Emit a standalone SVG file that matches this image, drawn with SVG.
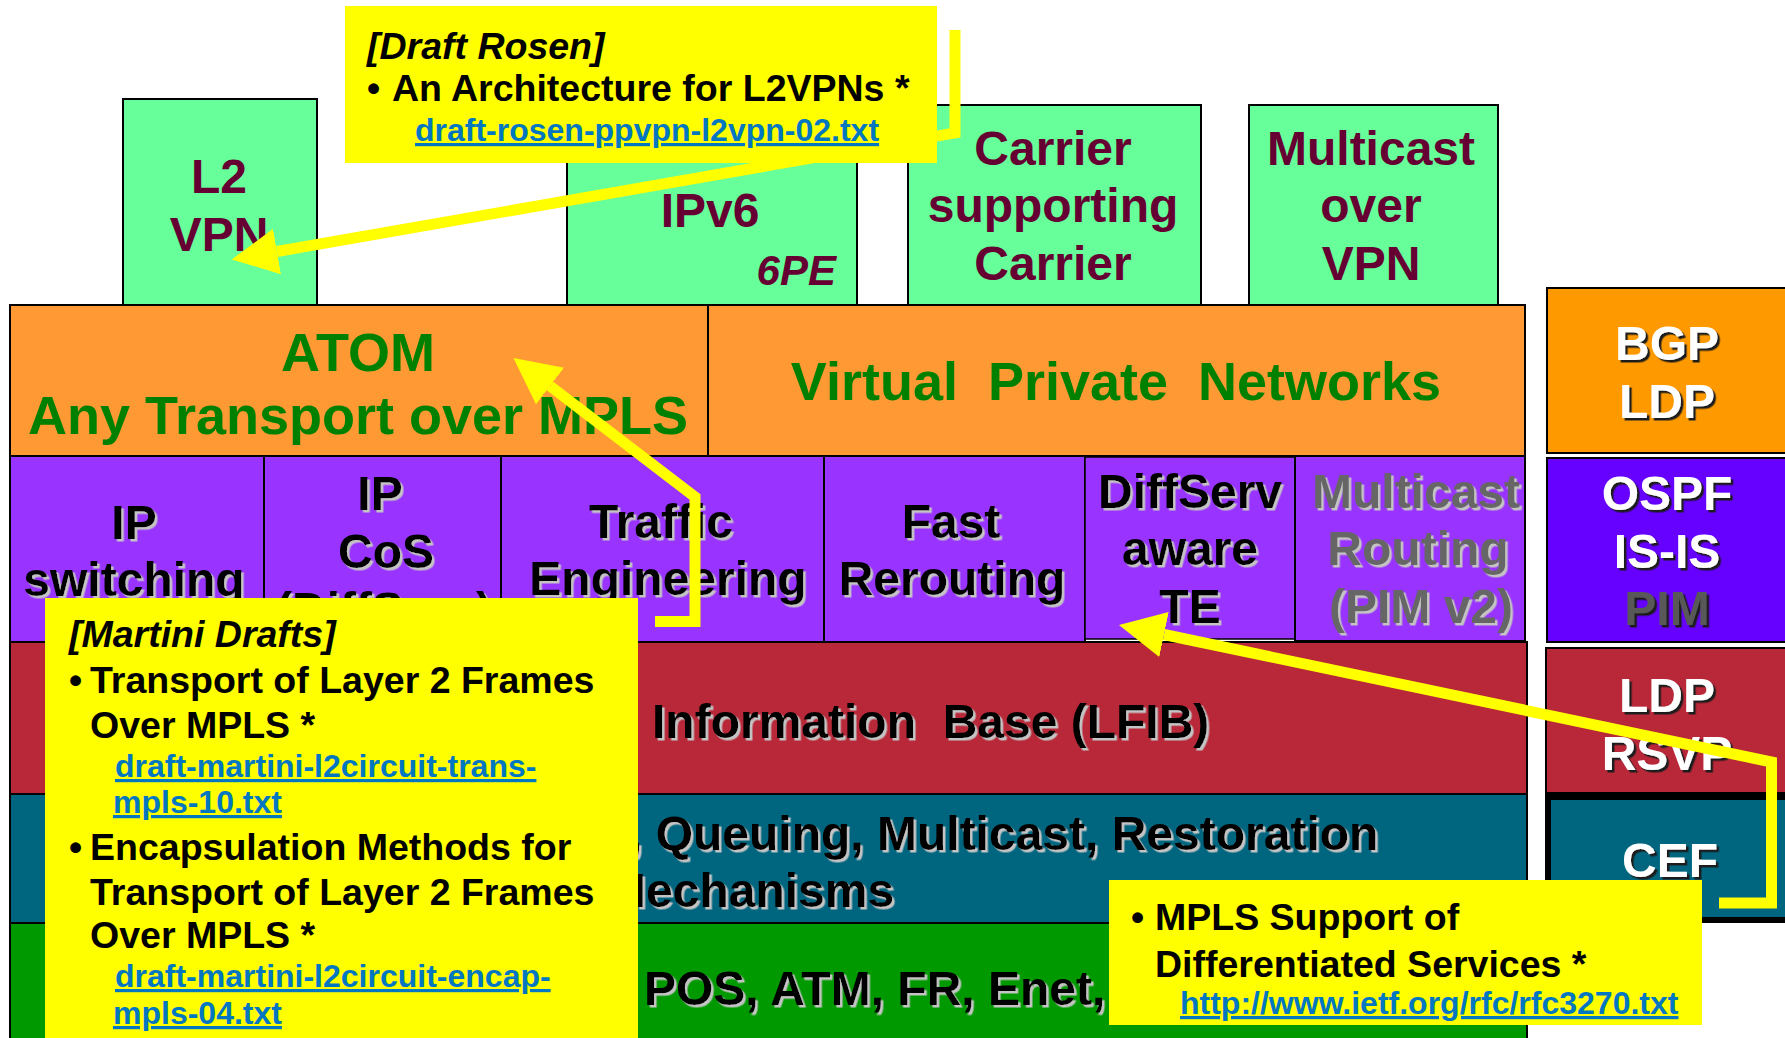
<svg xmlns="http://www.w3.org/2000/svg" width="1785" height="1038" viewBox="0 0 1785 1038">
<style>
text { font-family: "Liberation Sans", Arial, sans-serif; font-weight: bold; }
.ln { stroke: #000; stroke-width: 2; }
.gbox { fill: #66FF99; stroke: #000; stroke-width: 2; }
.mar { fill: #660033; font-size: 48px; text-anchor: middle; }
.grn { fill: #008000; font-size: 54px; text-anchor: middle; }
.blk { fill: #000; font-size: 48px; text-anchor: middle; filter: url(#shLight); }
.blkl { fill: #000; font-size: 48px; filter: url(#shLight); }
.gry { fill: #666666; font-size: 48px; text-anchor: middle; filter: url(#shLight); }
.wht { fill: #FFFFFF; font-size: 48px; text-anchor: middle; filter: url(#shDark); }
.dgry { fill: #595959; font-size: 48px; text-anchor: middle; filter: url(#shDark); }
.note { fill: #FFFF00; }
.nt { fill: #000; font-size: 37.5px; }
.lnk { fill: #0077C0; font-size: 32px; text-decoration: underline; }
</style>
<defs>
<filter id="shLight" x="-5%" y="-10%" width="110%" height="125%"><feDropShadow dx="2.5" dy="2.5" stdDeviation="0" flood-color="#C4C4C4" flood-opacity="1"/></filter>
<filter id="shDark" x="-5%" y="-10%" width="110%" height="125%"><feDropShadow dx="2.5" dy="2.5" stdDeviation="0" flood-color="#1A1A1A" flood-opacity="1"/></filter>
<marker id="arrow" viewBox="0 0 46 46" markerUnits="userSpaceOnUse" markerWidth="46" markerHeight="46" refX="0" refY="23" orient="auto"><path d="M0,0 L46,23 L0,46 Z" fill="#FFFF00"/></marker>
</defs>
<rect width="1785" height="1038" fill="#FFFFFF"/>

<!-- top green boxes -->
<g id="l2vpn"><rect class="gbox" x="123" y="99" width="194" height="208"/>
<text class="mar" x="219" y="193">L2</text><text class="mar" x="219" y="251">VPN</text></g>
<g id="ipv6"><rect class="gbox" x="567" y="105" width="290" height="200"/>
<text class="mar" x="710" y="227">IPv6</text>
<text x="836" y="285" fill="#660033" font-size="42" font-style="italic" text-anchor="end">6PE</text></g>
<g id="csc"><rect class="gbox" x="908" y="105" width="293" height="200"/>
<text class="mar" x="1053" y="165">Carrier</text><text class="mar" x="1053" y="222">supporting</text><text class="mar" x="1053" y="280">Carrier</text></g>
<g id="mvpn"><rect class="gbox" x="1249" y="105" width="249" height="200"/>
<text class="mar" x="1371" y="165">Multicast</text><text class="mar" x="1371" y="222">over</text><text class="mar" x="1371" y="280">VPN</text></g>

<!-- orange row -->
<g id="atom"><rect class="ln" x="10" y="305" width="698" height="151" fill="#FF9933"/>
<text class="grn" x="358" y="371">ATOM</text><text class="grn" x="358" y="434">Any Transport over MPLS</text></g>
<g id="vpns"><rect class="ln" x="708" y="305" width="817" height="151" fill="#FF9933"/>
<text class="grn" x="1116" y="400" xml:space="preserve">Virtual  Private  Networks</text></g>

<!-- purple row -->
<g id="ipsw"><rect class="ln" x="10" y="456" width="254" height="186" fill="#9933FF"/>
<text class="blk" x="134" y="539">IP</text><text class="blk" x="134" y="596">switching</text></g>
<g id="ipcos"><rect class="ln" x="264" y="456" width="237" height="186" fill="#9933FF"/>
<text class="blk" x="380" y="510">IP</text><text class="blk" x="386" y="568">CoS</text><text class="blk" x="384" y="626">(DiffServ)</text></g>
<g id="te"><rect class="ln" x="501" y="456" width="323" height="186" fill="#9933FF"/>
<text class="blk" x="661" y="538">Traffic</text><text class="blk" x="668" y="595">Engineering</text></g>
<g id="frr"><rect class="ln" x="824" y="456" width="261" height="186" fill="#9933FF"/>
<text class="blk" x="951" y="538">Fast</text><text class="blk" x="952" y="595">Rerouting</text></g>
<g id="dste"><rect x="1085" y="457" width="210" height="182" fill="#9933FF" stroke="#000" stroke-width="1.5"/>
<text class="blk" x="1190" y="508">DiffServ</text><text class="blk" x="1190" y="565">aware</text><text class="blk" x="1190" y="623">TE</text></g>
<g id="mcast"><rect class="ln" x="1295" y="456" width="230" height="185" fill="#9933FF"/>
<text class="gry" x="1416" y="508">Multicast</text><text class="gry" x="1418" y="565">Routing</text><text class="gry" x="1421" y="623">(PIM v2)</text></g>

<!-- lower rows -->
<g id="lfib"><rect class="ln" x="10" y="642" width="1517" height="152" fill="#B82838"/>
<text class="blkl" x="652" y="738" xml:space="preserve">Information  Base (LFIB)</text></g>
<g id="qos"><rect class="ln" x="10" y="794" width="1517" height="129" fill="#006680"/>
<text class="blkl" x="629" y="850">, Queuing, Multicast, Restoration</text>
<text class="blkl" x="606" y="907">Mechanisms</text></g>
<g id="l2"><rect class="ln" x="10" y="923" width="1517" height="125" fill="#009900"/>
<text class="blkl" x="644" y="1005">POS, ATM, FR, Enet,</text></g>

<!-- right column -->
<g id="bgp"><rect class="ln" x="1547" y="288" width="250" height="165" fill="#FF9900"/>
<text class="wht" x="1667" y="360">BGP</text><text class="wht" x="1667" y="418">LDP</text></g>
<g id="igp"><rect class="ln" x="1547" y="458" width="250" height="184" fill="#6600FF"/>
<text class="wht" x="1667" y="510">OSPF</text><text class="wht" x="1667" y="568">IS-IS</text><text class="dgry" x="1667" y="625">PIM</text></g>
<g id="ldp"><rect class="ln" x="1546" y="648" width="250" height="145" fill="#B82838"/>
<text class="wht" x="1667" y="712">LDP</text><text class="wht" x="1667" y="770">RSVP</text></g>
<g id="cef"><rect x="1548" y="797" width="250" height="123" fill="#006680" stroke="#000" stroke-width="6"/>
<text class="wht" x="1670" y="877">CEF</text></g>

<!-- connectors -->
<g id="connectors" fill="none" stroke="#FFFF00" stroke-width="11" stroke-linejoin="miter">
<polyline id="c-rosen" points="955,30 955,133 277,251.5" marker-end="url(#arrow)"/>
<polyline id="c-martini" points="655,621.5 695,621.5 695,497 550,386" marker-end="url(#arrow)"/>
<polyline id="c-rfc3270" points="1719,903 1771.5,903 1771.5,762 1164,634.5" marker-end="url(#arrow)"/>
</g>

<!-- callouts -->
<g id="note-rosen"><rect class="note" x="345" y="6" width="592" height="157"/>
<text class="nt" x="367" y="59" font-style="italic">[Draft Rosen]</text>
<text class="nt" y="101"><tspan x="367">•</tspan><tspan x="392">An Architecture for L2VPNs *</tspan></text>
<text class="lnk" x="415" y="141">draft-rosen-ppvpn-l2vpn-02.txt</text></g>

<g id="note-martini"><rect class="note" x="45" y="598" width="593" height="445"/>
<text class="nt" x="69" y="647" font-style="italic">[Martini Drafts]</text>
<text class="nt" y="693"><tspan x="69">•</tspan><tspan x="90">Transport of Layer 2 Frames</tspan></text>
<text class="nt" x="90" y="738">Over MPLS *</text>
<text class="lnk" x="115" y="777">draft-martini-l2circuit-trans-</text>
<text class="lnk" x="113" y="813">mpls-10.txt</text>
<text class="nt" y="860"><tspan x="69">•</tspan><tspan x="90">Encapsulation Methods for</tspan></text>
<text class="nt" x="90" y="905">Transport of Layer 2 Frames</text>
<text class="nt" x="90" y="948">Over MPLS *</text>
<text class="lnk" x="115" y="987">draft-martini-l2circuit-encap-</text>
<text class="lnk" x="113" y="1024">mpls-04.txt</text></g>

<g id="note-rfc3270"><rect class="note" x="1109" y="880" width="593" height="145"/>
<text class="nt" y="930"><tspan x="1131">•</tspan><tspan x="1155">MPLS Support of</tspan></text>
<text class="nt" x="1155" y="977">Differentiated Services *</text>
<text class="lnk" x="1180" y="1014">http://www.ietf.org/rfc/rfc3270.txt</text></g>
</svg>
